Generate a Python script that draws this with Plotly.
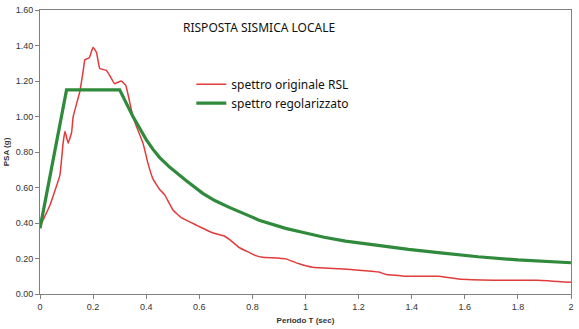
import plotly.graph_objects as go

# Periodo T (sec) and PSA (g)
t_rsl = [0.0, 0.0375, 0.075, 0.087, 0.094, 0.106, 0.119, 0.125, 0.15, 0.163, 0.169, 0.185,
         0.2, 0.213, 0.225, 0.25, 0.263, 0.281, 0.306, 0.323, 0.338, 0.35, 0.363, 0.388,
         0.406, 0.425, 0.45, 0.469, 0.5, 0.532, 0.6, 0.65, 0.694, 0.713, 0.75, 0.788,
         0.813, 0.838, 0.926, 0.976, 1.026, 1.126, 1.213, 1.276, 1.30, 1.376, 1.463,
         1.50, 1.576, 1.71, 1.876, 2.0]
psa_rsl = [0.38, 0.50, 0.67, 0.85, 0.917, 0.85, 0.91, 1.00, 1.14, 1.26, 1.32, 1.33,
           1.39, 1.36, 1.27, 1.26, 1.23, 1.185, 1.20, 1.175, 1.08, 1.00, 0.945, 0.85,
           0.74, 0.65, 0.59, 0.56, 0.475, 0.43, 0.38, 0.345, 0.327, 0.308, 0.262, 0.234,
           0.216, 0.207, 0.198, 0.17, 0.151, 0.142, 0.133, 0.124, 0.111, 0.10, 0.10,
           0.10, 0.085, 0.078, 0.078, 0.066]

t_reg = [0.0, 0.05, 0.09, 0.1, 0.3, 0.325, 0.35, 0.375, 0.4, 0.425, 0.45, 0.488, 0.52,
         0.55, 0.613, 0.66, 0.713, 0.75, 0.788, 0.825, 0.863, 0.925, 0.988, 1.07, 1.151,
         1.276, 1.388, 1.5, 1.65, 1.8, 2.0]
psa_reg = [0.37, 0.76, 1.06, 1.15, 1.15, 1.07, 1.00, 0.935, 0.87, 0.816, 0.77, 0.715,
           0.675, 0.64, 0.567, 0.525, 0.488, 0.462, 0.44, 0.416, 0.397, 0.37, 0.348,
           0.32, 0.298, 0.271, 0.251, 0.233, 0.21, 0.192, 0.176]

x_ticks = [0, 0.2, 0.4, 0.6, 0.8, 1, 1.2, 1.4, 1.6, 1.8, 2]
x_labels = ["0", "0.2", "0.4", "0.6", "0.8", "1", "1.2", "1.4", "1.6", "1.8", "2"]
y_ticks = [0, 0.2, 0.4, 0.6, 0.8, 1.0, 1.2, 1.4, 1.6]
y_labels = ["0.00", "0.20", "0.40", "0.60", "0.80", "1.00", "1.20", "1.40", "1.60"]

fig = go.Figure()
fig.add_trace(go.Scatter(x=t_rsl, y=psa_rsl, mode="lines", name="spettro originale RSL",
                         line=dict(color="#e23b3b", width=1.5, shape="spline", smoothing=0.3)))
fig.add_trace(go.Scatter(x=t_reg, y=psa_reg, mode="lines", name="spettro regolarizzato",
                         line=dict(color="#2f8a3c", width=3.2, shape="linear")))

fig.update_layout(
    width=579, height=329,
    margin=dict(l=40, r=6, t=5, b=35),
    paper_bgcolor="white", plot_bgcolor="white",
    font=dict(family="Liberation Sans, Arial, sans-serif", color="#333333"),
    legend=dict(x=0.285, y=0.79, xanchor="left", yanchor="top", bgcolor="rgba(0,0,0,0)",
                font=dict(size=12, color="#111111", family="Noto Sans, sans-serif"),
                tracegroupgap=2),
    annotations=[dict(text="RISPOSTA SISMICA LOCALE", xref="paper", yref="paper",
                      x=0.266, y=0.94, xanchor="left", yanchor="middle", showarrow=False,
                      font=dict(size=12, color="#111111", family="Noto Sans, sans-serif"))],
)
fig.update_xaxes(range=[0, 2], tickvals=x_ticks, ticktext=x_labels,
                 showgrid=False, zeroline=False, showline=True, linecolor="#808080",
                 linewidth=1, mirror=True, ticks="outside", ticklen=4, tickcolor="#808080",
                 tickfont=dict(size=9, color="#333333"),
                 title=dict(text="<b>Periodo T (sec)</b>", font=dict(size=8, color="#333333"), standoff=6))
fig.update_yaxes(range=[0, 1.6], tickvals=y_ticks, ticktext=y_labels,
                 showgrid=False, zeroline=False, showline=True, linecolor="#808080",
                 linewidth=1, mirror=True, ticks="outside", ticklen=4, tickcolor="#808080",
                 tickfont=dict(size=9, color="#333333"),
                 title=dict(text="<b>PSA (g)</b>", font=dict(size=8, color="#333333"), standoff=4))

fig.write_html("out.html")
